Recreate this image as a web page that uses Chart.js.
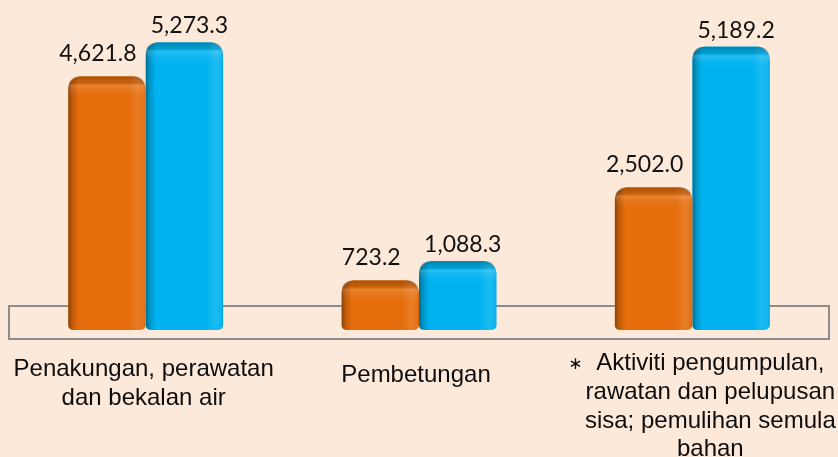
<!DOCTYPE html>
<html>
<head>
<meta charset="utf-8">
<script src="https://cdn.jsdelivr.net/npm/chart.js@4.4.1/dist/chart.umd.min.js"></script>
<style>
  html, body { margin: 0; padding: 0; background: #FDE9DA; }
  #wrap { width: 838px; height: 457px; }
</style>
</head>
<body>
<div id="wrap"><canvas id="spendChart" width="838" height="457"></canvas></div>
<script>
// 1. DATA
const categories = [
    ["Penakungan, perawatan", "dan bekalan air"],
    ["Pembetungan"],
    ["Aktiviti pengumpulan,", "rawatan dan pelupusan", "sisa; pemulihan semula", "bahan"]
];
const categoryMarks = ["", "", "\u2217"];
const seriesOrange = [4621.8, 723.2, 2502.0];
const seriesBlue = [5273.3, 1088.3, 5189.2];

// 2. STYLE CONSTANTS
const BG = "#FDE9DA";
const LABEL_NUDGE = [[-2, 0], [-3, 6], [18, -6]]; // text box shifts in the original
const VALUE_SHIFT = [[-9, -15], [5, -9]];         // value labels per series: dx, dy
const LINE_GAP = 28.8;
const FLOOR_TOP = 230;   // floor plane, in value units
const BAR_FOOT = -230;   // bars sink into the floor

function fmt(v) {
    return v.toLocaleString("en-US", { minimumFractionDigits: 1, maximumFractionDigits: 1 });
}

function barPath(ctx, l, t, r, b, rt, rb) {
    ctx.beginPath();
    ctx.moveTo(l, t + rt);
    ctx.quadraticCurveTo(l, t, l + rt, t);
    ctx.lineTo(r - rt, t);
    ctx.quadraticCurveTo(r, t, r, t + rt);
    ctx.lineTo(r, b - rb);
    ctx.quadraticCurveTo(r, b, r - rb, b);
    ctx.lineTo(l + rb, b);
    ctx.quadraticCurveTo(l, b, l, b - rb);
    ctx.closePath();
}

// 3. PLUGINS
const backdrop = {
    id: "backdrop",
    beforeDraw(chart) {
        const ctx = chart.ctx;
        ctx.save();
        ctx.fillStyle = BG;
        ctx.fillRect(0, 0, chart.width, chart.height);
        ctx.restore();
    },
    beforeDatasetsDraw(chart) {
        // grey floor box
        const { ctx, chartArea: ca, scales: { y } } = chart;
        const top = y.getPixelForValue(FLOOR_TOP);
        ctx.save();
        ctx.strokeStyle = "#8C8C8C";
        ctx.lineWidth = 2;
        ctx.strokeRect(ca.left, top, ca.right - ca.left, ca.bottom - 1 - top);
        ctx.restore();
    }
};

const shading = {
    id: "shading",
    afterDatasetDraw(chart, args) {
        const ctx = chart.ctx;
        args.meta.data.forEach(el => {
            const l = el.x - el.width / 2, r = el.x + el.width / 2;
            const t = el.y, b = el.base;
            ctx.save();
            barPath(ctx, l, t, r, b, 13, 5);
            ctx.clip();
            // side shading, cylinder look
            const gx = ctx.createLinearGradient(l, 0, r, 0);
            gx.addColorStop(0, "rgba(0,0,0,0.40)");
            gx.addColorStop(0.05, "rgba(0,0,0,0.18)");
            gx.addColorStop(0.13, "rgba(0,0,0,0.0)");
            gx.addColorStop(0.78, "rgba(255,255,255,0.0)");
            gx.addColorStop(0.9, "rgba(255,255,255,0.11)");
            gx.addColorStop(0.97, "rgba(255,255,255,0.06)");
            gx.addColorStop(1, "rgba(0,0,0,0.12)");
            ctx.fillStyle = gx;
            ctx.fillRect(l, t, r - l, b - t);
            // top cap
            const gy = ctx.createLinearGradient(0, t, 0, t + 22);
            gy.addColorStop(0, "rgba(0,0,0,0.26)");
            gy.addColorStop(0.3, "rgba(0,0,0,0.12)");
            gy.addColorStop(0.42, "rgba(255,255,255,0.14)");
            gy.addColorStop(0.7, "rgba(255,255,255,0.04)");
            gy.addColorStop(1, "rgba(255,255,255,0)");
            ctx.fillStyle = gy;
            ctx.fillRect(l, t, r - l, 22);
            ctx.restore();
        });
    }
};

const labels = {
    id: "labels",
    afterDatasetsDraw(chart) {
        const ctx = chart.ctx;
        ctx.save();
        // value labels
        ctx.fillStyle = "#111";
        ctx.font = "23px Lato";
        ctx.textAlign = "center";
        ctx.textBaseline = "alphabetic";
        chart.data.datasets.forEach((ds, i) => {
            const [dx, dy] = VALUE_SHIFT[i];
            chart.getDatasetMeta(i).data.forEach((el, j) => {
                ctx.fillText(fmt(ds.data[j]), el.x + dx, el.y + dy);
            });
        });
        // category labels
        const x = chart.scales.x;
        const textFont = "24px 'Liberation Sans', Arial";
        ctx.fillStyle = "#0D0D0D";
        categories.forEach((lines, i) => {
            const cx = x.getPixelForValue(i) + LABEL_NUDGE[i][0];
            const y0 = 376 + LABEL_NUDGE[i][1];
            ctx.font = textFont;
            ctx.textAlign = "center";
            lines.forEach((line, k) => {
                ctx.fillText(line, cx, y0 + k * LINE_GAP);
            });
            if (categoryMarks[i]) {
                const w = ctx.measureText(lines[0]).width;
                ctx.font = "17px 'DejaVu Sans'";
                ctx.fillText(categoryMarks[i], cx - w / 2 - 21, y0 - 1);
            }
        });
        ctx.restore();
    }
};

// 4. CHART
new Chart(document.getElementById("spendChart"), {
    type: "bar",
    data: {
        labels: categories.map(c => c.join(" ")),
        datasets: [
            { data: seriesOrange, backgroundColor: "#E56D0C", base: BAR_FOOT },
            { data: seriesBlue, backgroundColor: "#00B3F0", base: BAR_FOOT }
        ]
    },
    options: {
        responsive: false,
        animation: false,
        devicePixelRatio: 1,
        layout: { padding: { left: 9, right: 9, top: 0, bottom: 117 } },
        datasets: {
            bar: {
                categoryPercentage: 0.567,
                barPercentage: 1.0,
                borderRadius: { topLeft: 13, topRight: 13, bottomLeft: 5, bottomRight: 5 },
                borderSkipped: false
            }
        },
        plugins: { legend: { display: false }, tooltip: { enabled: false } },
        scales: {
            x: { display: false },
            y: { display: false, min: -420, max: 6080 }
        }
    },
    plugins: [backdrop, shading, labels]
});
</script>
</body>
</html>
